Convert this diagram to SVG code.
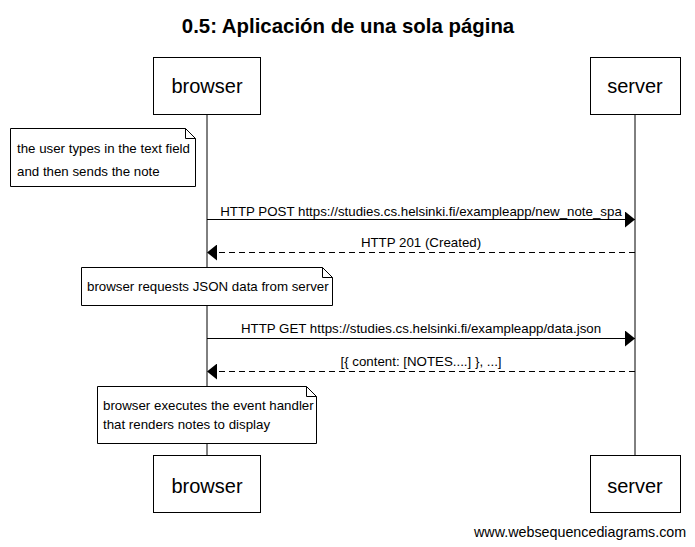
<svg xmlns="http://www.w3.org/2000/svg" width="695" height="547" viewBox="0 0 695 547">
<style>
text{font-family:"Liberation Sans",Arial,sans-serif;fill:#000}
.title{font-size:20.4px;font-weight:bold;text-anchor:middle}
.actor rect{fill:#fff;stroke:#000;stroke-width:1}
.actor text{font-size:20px;text-anchor:middle}
.life{stroke:#000;stroke-width:1}
.msg{stroke:#000;stroke-width:1;fill:none}
.dash{stroke-dasharray:6,4}
.lbl{font-size:13.3px;text-anchor:middle}
.note path{fill:#fff;stroke:#000;stroke-width:1}
.note text{font-size:13.3px}
.foot{font-size:14.3px}
</style>
<defs>
<marker id="ah" viewBox="0 0 10 16" refX="10" refY="8" markerWidth="10" markerHeight="16" markerUnits="userSpaceOnUse" orient="auto">
<path d="M0,0 L10,8 L0,16 Z" fill="#000"/>
</marker>
</defs>
<rect width="695" height="547" fill="#fff"/>
<text class="title" x="348" y="33">0.5: Aplicación de una sola página</text>
<g id="lifelines">
<line class="life" x1="207" y1="114" x2="207" y2="455"/>
<line class="life" x1="635" y1="114" x2="635" y2="455"/>
</g>
<g id="browser-top" class="actor"><rect x="153.5" y="57.5" width="107" height="57"/><text x="207" y="93">browser</text></g>
<g id="server-top" class="actor"><rect x="590.5" y="57.5" width="90" height="57"/><text x="635" y="93">server</text></g>
<g id="browser-bottom" class="actor"><rect x="153.5" y="455.5" width="107" height="57"/><text x="207" y="493">browser</text></g>
<g id="server-bottom" class="actor"><rect x="590.5" y="455.5" width="90" height="57"/><text x="635" y="493">server</text></g>
<g id="note1" class="note"><path d="M10.5,128.5 H185.5 L195.5,138.5 V186.5 H10.5 Z M185.5,128.5 V138.5 H195.5"/><text x="17" y="153">the user types in the text field</text><text x="17" y="176">and then sends the note</text></g>
<g id="note2" class="note"><path d="M81.5,267.5 H322.5 L332.5,277.5 V305.5 H81.5 Z M322.5,267.5 V277.5 H332.5"/><text x="87" y="291">browser requests JSON data from server</text></g>
<g id="note3" class="note"><path d="M97.5,386.5 H306.5 L316.5,396.5 V443.5 H97.5 Z M306.5,386.5 V396.5 H316.5"/><text x="103" y="410">browser executes the event handler</text><text x="103" y="429">that renders notes to display</text></g>
<g id="connectors">
<line class="msg" x1="207" y1="219.5" x2="635" y2="219.5" marker-end="url(#ah)"/>
<text class="lbl" x="421" y="216">HTTP POST https://studies.cs.helsinki.fi/exampleapp/new_note_spa</text>
<line class="msg dash" x1="635" y1="252.5" x2="207" y2="252.5" marker-end="url(#ah)"/>
<text class="lbl" x="421" y="247">HTTP 201 (Created)</text>
<line class="msg" x1="207" y1="338.5" x2="635" y2="338.5" marker-end="url(#ah)"/>
<text class="lbl" x="421" y="333">HTTP GET https://studies.cs.helsinki.fi/exampleapp/data.json</text>
<line class="msg dash" x1="635" y1="371.5" x2="207" y2="371.5" marker-end="url(#ah)"/>
<text class="lbl" x="421" y="366">[{ content: [NOTES....] }, ...]</text>
</g>
<text class="foot" x="474" y="537">www.websequencediagrams.com</text>
</svg>
